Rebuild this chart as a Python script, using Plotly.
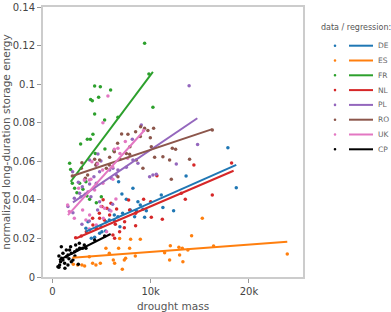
import plotly.graph_objects as go

countries = ["DE", "ES", "FR", "NL", "PL", "RO", "UK", "CP"]
colors = ["#1f77b4", "#ff7f0e", "#2ca02c", "#d62728", "#9467bd", "#8c564b", "#e377c2", "#000000"]

de_x = [3417, 3621, 3793, 3966, 4302, 4810, 4963, 5044, 5421, 5471, 5797, 6305, 6336, 6672, 6875, 7150, 6743, 7078, 7526, 7933, 8197, 8370, 8543, 8706, 8950, 9214, 9560, 9387, 11085, 11248, 12336, 13607, 17859, 18713]
de_y = [0.0253, 0.0287, 0.0244, 0.0201, 0.0206, 0.0227, 0.0261, 0.0235, 0.0239, 0.0287, 0.0296, 0.0322, 0.0292, 0.0313, 0.0261, 0.0330, 0.0494, 0.0430, 0.0403, 0.0347, 0.0460, 0.0313, 0.0344, 0.0390, 0.0373, 0.0351, 0.0344, 0.0310, 0.0425, 0.0361, 0.0344, 0.0524, 0.0670, 0.0463]

es_x = [2136, 2573, 3010, 3285, 3763, 4099, 4434, 4882, 5451, 5797, 6204, 6336, 6743, 6844, 7119, 7322, 7455, 7861, 7963, 8441, 8950, 11421, 11930, 12001, 12875, 12946, 13282, 13221, 13791, 14167, 15255, 16404, 23900]
es_y = [0.0066, 0.0062, 0.0062, 0.0057, 0.0105, 0.0071, 0.0062, 0.0071, 0.0149, 0.0123, 0.0088, 0.0071, 0.0149, 0.0200, 0.0040, 0.0088, 0.0097, 0.0149, 0.0196, 0.0109, 0.0196, 0.0126, 0.0088, 0.0162, 0.0154, 0.0114, 0.0079, 0.0149, 0.0140, 0.0214, 0.0304, 0.0161, 0.0119]

fr_x = [1759, 1861, 2034, 2268, 2502, 2776, 2878, 3112, 3417, 3519, 3560, 3793, 3865, 3895, 4068, 4129, 4302, 4302, 4373, 4475, 4709, 4882, 4983, 5319, 5349, 5929, 6265, 6672, 9387, 9824, 10231]
fr_y = [0.0590, 0.0558, 0.0486, 0.0460, 0.0437, 0.0486, 0.0690, 0.0455, 0.0494, 0.0420, 0.0714, 0.0403, 0.0714, 0.0921, 0.0914, 0.0740, 0.0845, 0.0990, 0.0641, 0.0385, 0.0932, 0.0987, 0.0416, 0.0814, 0.0664, 0.0970, 0.0655, 0.0828, 0.1212, 0.1053, 0.0880]

nl_x = [2370, 2949, 3458, 4129, 4099, 4475, 4780, 4810, 5044, 5167, 5288, 5553, 5827, 5960, 6163, 6336, 6407, 6539, 6844, 7322, 7353, 7760, 7861, 8472, 8472, 9285, 9997, 10068, 10638, 11187, 13119, 13526, 14401, 16272, 18235]
nl_y = [0.0204, 0.0213, 0.0235, 0.0270, 0.0304, 0.0253, 0.0330, 0.0304, 0.0365, 0.0401, 0.0296, 0.0356, 0.0322, 0.0382, 0.0218, 0.0201, 0.0273, 0.0353, 0.0235, 0.0256, 0.0287, 0.0399, 0.0347, 0.0330, 0.0266, 0.0403, 0.0390, 0.0310, 0.0525, 0.0299, 0.0434, 0.0403, 0.0581, 0.0425, 0.0591]

pl_x = [1587, 2065, 2095, 2237, 2644, 2776, 2909, 3010, 3051, 3285, 3763, 3793, 3793, 3926, 4231, 4434, 4475, 4607, 4638, 4810, 4810, 4943, 5797, 5827, 6000, 6133, 6163, 6509, 6672, 7526, 8136, 8197, 8706, 9051, 9895, 10231, 10577, 12611, 13913, 14777]
pl_y = [0.0365, 0.0546, 0.0333, 0.0408, 0.0491, 0.0434, 0.0416, 0.0273, 0.0468, 0.0503, 0.0290, 0.0482, 0.0607, 0.0416, 0.0520, 0.0581, 0.0486, 0.0347, 0.0638, 0.0546, 0.0390, 0.0602, 0.0347, 0.0555, 0.0512, 0.0377, 0.0564, 0.0529, 0.0555, 0.0569, 0.0714, 0.0607, 0.0590, 0.0788, 0.0520, 0.0529, 0.0533, 0.0586, 0.0992, 0.0687]

ro_x = [2034, 2949, 3010, 3356, 3590, 4302, 4434, 4536, 4810, 5492, 5797, 5827, 6305, 6641, 6672, 6875, 7048, 7526, 7689, 7861, 7892, 8472, 8543, 8950, 8980, 9214, 9387, 9722, 9967, 10068, 10302, 10404, 11248, 11930, 12102, 12204, 12540, 13963, 16272]
ro_y = [0.0524, 0.0564, 0.0593, 0.0512, 0.0529, 0.0610, 0.0581, 0.0590, 0.0607, 0.0564, 0.0581, 0.0621, 0.0650, 0.0693, 0.0520, 0.0610, 0.0742, 0.0641, 0.0740, 0.0636, 0.0676, 0.0753, 0.0607, 0.0728, 0.0779, 0.0564, 0.0771, 0.0759, 0.0722, 0.0676, 0.0771, 0.0621, 0.0624, 0.0607, 0.0507, 0.0667, 0.0662, 0.0610, 0.0762]

uk_x = [1556, 1729, 2237, 2675, 3081, 3254, 3356, 3417, 3621, 3763, 3763, 3793, 3926, 4027, 4302, 4475, 4607, 4943, 5116, 5146, 5146, 5187, 5319, 5522, 5655, 5960, 6133, 6163, 6305, 6468, 6672, 6875, 7424, 7658, 9285]
uk_y = [0.0373, 0.0339, 0.0304, 0.0460, 0.0347, 0.0503, 0.0430, 0.0296, 0.0442, 0.0503, 0.0249, 0.0322, 0.0507, 0.0598, 0.0451, 0.0270, 0.0586, 0.0365, 0.0555, 0.0486, 0.0800, 0.0304, 0.0356, 0.0235, 0.0939, 0.0342, 0.0572, 0.0507, 0.0662, 0.0404, 0.0667, 0.0641, 0.0702, 0.0616, 0.0759]

cp_x = [570, 742, 844, 946, 1078, 1251, 1424, 1587, 1759, 1861, 1932, 2095, 2268, 2370, 2502, 2644, 2776, 1281, 671, 915, 1587, 1932, 1424, 1078, 2298, 1688, 671, 2746, 3254, 3417, 3081, 4302, 5319]
cp_y = [0.0053, 0.0062, 0.0079, 0.0097, 0.0088, 0.0071, 0.0105, 0.0114, 0.0140, 0.0157, 0.0123, 0.0088, 0.0131, 0.0166, 0.0140, 0.0066, 0.0149, 0.0045, 0.0050, 0.0157, 0.0062, 0.0079, 0.0140, 0.0123, 0.0109, 0.0095, 0.0109, 0.0175, 0.0166, 0.0149, 0.0149, 0.0192, 0.0213]

# regression line end points
reg_x_start = [3387, 2034, 1861, 2441, 2095, 2034, 1587, 671]
reg_y_start = [0.0235, 0.0100, 0.0494, 0.0201, 0.0387, 0.0524, 0.0321, 0.0088]
reg_x_end = [18713, 23900, 10231, 18438, 14747, 16272, 9387, 5929]
reg_y_end = [0.0581, 0.0183, 0.1064, 0.0551, 0.0823, 0.0767, 0.0762, 0.0223]

x_tickvals = [0, 10000, 20000]
x_ticktext = ["0", "10k", "20k"]
y_tickvals = [0, 0.02, 0.04, 0.06, 0.08, 0.1, 0.12, 0.14]
y_ticktext = ["0", "0.02", "0.04", "0.06", "0.08", "0.1", "0.12", "0.14"]

xs = [de_x, es_x, fr_x, nl_x, pl_x, ro_x, uk_x, cp_x]
ys = [de_y, es_y, fr_y, nl_y, pl_y, ro_y, uk_y, cp_y]

FONT = "DejaVu Sans"
fig = go.Figure()

for i, c in enumerate(countries):
    fig.add_trace(go.Scatter(x=xs[i], y=ys[i], mode="markers",
                             marker=dict(color=colors[i], size=3.5, line=dict(width=0)),
                             showlegend=False, name=c))
for i, c in enumerate(countries):
    fig.add_trace(go.Scatter(x=[reg_x_start[i], reg_x_end[i]], y=[reg_y_start[i], reg_y_end[i]],
                             mode="lines", line=dict(color=colors[i], width=2),
                             showlegend=False, name=c))

# plot area in pixels: x 43..303, y 7..277
L, T, R, B = 43, 7, 303, 277
W, H = R - L, B - T

def px_x(p):
    return (p - L) / W

def px_y(p):
    return (B - p) / H

shapes = []
annotations = []
annotations.append(dict(text="data / regression:", x=px_x(319), y=px_y(27), xref="paper", yref="paper",
                        xanchor="left", yanchor="middle", showarrow=False,
                        font=dict(family=FONT, size=8, color="#555555")))
for i, c in enumerate(countries):
    yy = 45.7 + i * 14.8
    shapes.append(dict(type="circle", xref="paper", yref="paper",
                       x0=px_x(333.7), x1=px_x(336.3), y0=px_y(yy + 1.3), y1=px_y(yy - 1.3),
                       fillcolor=colors[i], line=dict(width=0)))
    shapes.append(dict(type="line", xref="paper", yref="paper",
                       x0=px_x(349), x1=px_x(373), y0=px_y(yy), y1=px_y(yy),
                       line=dict(color=colors[i], width=2)))
    annotations.append(dict(text=c, x=px_x(376), y=px_y(yy), xref="paper", yref="paper",
                            xanchor="left", yanchor="middle", showarrow=False,
                            font=dict(family=FONT, size=7.5, color="#666666")))

fig.update_layout(
    width=391, height=312,
    margin=dict(l=L, r=391 - R, t=T, b=312 - B, autoexpand=False),
    paper_bgcolor="white", plot_bgcolor="white",
    font=dict(family=FONT, size=10, color="#444444"),
    showlegend=False,
    shapes=shapes, annotations=annotations,
    xaxis=dict(range=[-950, 25500], tickvals=x_tickvals, ticktext=x_ticktext,
               showgrid=False, zeroline=False, showline=True, mirror=True, automargin=False,
               linecolor="#cccccc", linewidth=2, ticks="outside", ticklen=4,
               tickcolor="#999999", tickfont=dict(size=10, color="#444444"),
               title=dict(text="drought mass", font=dict(size=10.5, color="#555555"), standoff=10)),
    yaxis=dict(range=[0, 0.14], tickvals=y_tickvals, ticktext=y_ticktext,
               showgrid=False, zeroline=False, showline=True, mirror=True, automargin=False,
               linecolor="#cccccc", linewidth=2, ticks="outside", ticklen=4,
               tickcolor="#999999", tickfont=dict(size=10, color="#444444"),
               title=dict(text="normalized long-duration storage energy",
                          font=dict(size=10.5, color="#555555"), standoff=6)),
)

fig.write_html("out.html", config={"displayModeBar": False},
               post_script="document.body.style.margin='0px';document.body.style.overflow='hidden';")
